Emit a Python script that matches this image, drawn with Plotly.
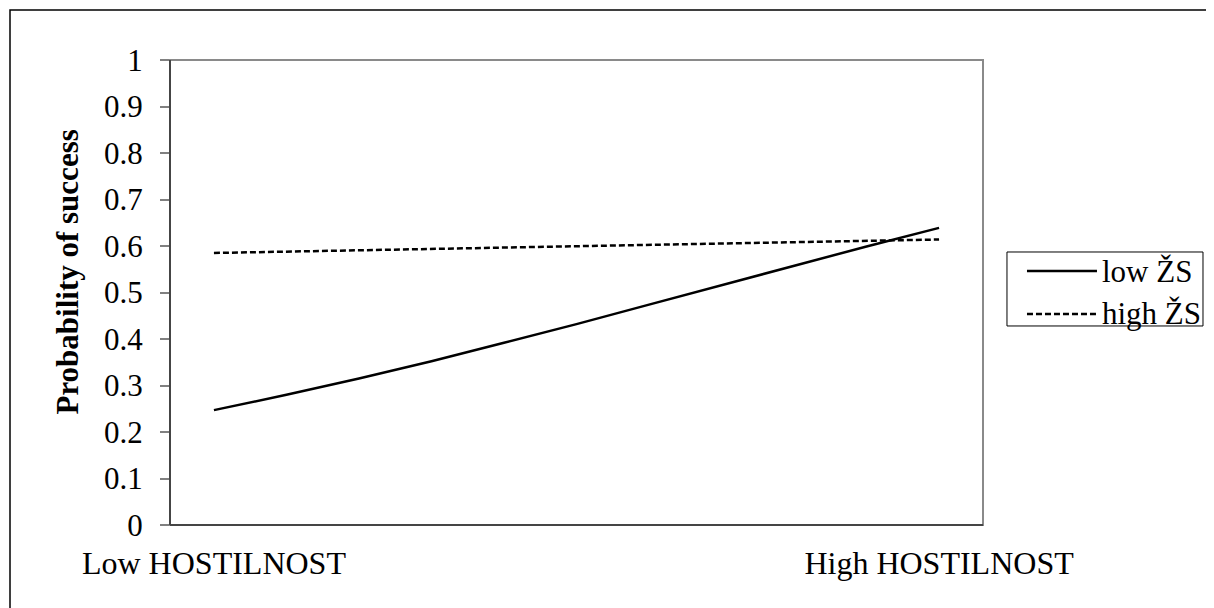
import plotly.graph_objects as go

# Data
x_pos = [0, 0.1, 0.2, 0.3, 0.4, 0.5, 0.6, 0.7, 0.8, 0.9, 1.0]
low_zs = [0.247, 0.280, 0.315, 0.352, 0.392, 0.432, 0.474, 0.516, 0.558, 0.599, 0.639]
high_zs = [0.585, 0.588, 0.591, 0.594, 0.597, 0.600, 0.602, 0.605, 0.608, 0.611, 0.614]
series_names = ["low ŽS", "high ŽS"]
x_tickvals = [0, 1]
x_ticktext = ["Low HOSTILNOST", "High HOSTILNOST"]
y_ticks = [0, 0.1, 0.2, 0.3, 0.4, 0.5, 0.6, 0.7, 0.8, 0.9, 1]
y_ticktext = ["0", "0.1", "0.2", "0.3", "0.4", "0.5", "0.6", "0.7", "0.8", "0.9", "1"]
y_title = "Probability of success"

FONT = "Liberation Serif, Times New Roman, serif"
DASH = "6px,3px"

fig = go.Figure()
fig.add_trace(go.Scatter(x=x_pos, y=low_zs, mode="lines", name=series_names[0],
                         line=dict(color="black", width=2.5), showlegend=False))
fig.add_trace(go.Scatter(x=x_pos, y=high_zs, mode="lines", name=series_names[1],
                         line=dict(color="black", width=2.5, dash=DASH), showlegend=False))

# legend geometry (paper coords)
lg_x0, lg_x1, lg_y0, lg_y1 = 1.0295, 1.2706, 0.428, 0.5871
row_y = [0.5462, 0.4538]
ln_x0, ln_x1, txt_x = 1.0541, 1.1402, 1.1439

shapes = [
    # outer chart frame
    dict(type="rect", xref="paper", yref="paper", x0=-0.1968, x1=1.3, y0=-0.25, y1=1.1075,
         line=dict(color="black", width=1.5), layer="below"),
    # plot area frame
    dict(type="rect", xref="paper", yref="paper", x0=0, x1=1, y0=0, y1=1,
         line=dict(color="#8a8a8a", width=2), layer="above"),
    dict(type="line", xref="paper", yref="paper", x0=0, x1=0, y0=0, y1=1,
         line=dict(color="#454545", width=2)),
    dict(type="line", xref="paper", yref="paper", x0=0, x1=1, y0=0, y1=0,
         line=dict(color="#454545", width=2)),
    # legend box
    dict(type="rect", xref="paper", yref="paper", x0=lg_x0, x1=lg_x1, y0=lg_y0, y1=lg_y1,
         line=dict(color="black", width=1), fillcolor="white"),
    dict(type="line", xref="paper", yref="paper", x0=ln_x0, x1=ln_x1, y0=row_y[0], y1=row_y[0],
         line=dict(color="black", width=2.5)),
    dict(type="line", xref="paper", yref="paper", x0=ln_x0, x1=ln_x1, y0=row_y[1], y1=row_y[1],
         line=dict(color="black", width=2.5, dash=DASH)),
]

annotations = [
    dict(xref="paper", yref="paper", x=txt_x, y=row_y[i], text=series_names[i],
         showarrow=False, xanchor="left", yanchor="middle",
         font=dict(family=FONT, size=31, color="black"))
    for i in range(2)
]
annotations.append(dict(xref="paper", yref="paper", x=-0.1255, y=0.545,
                        text="<b>" + y_title + "</b>", textangle=-90, showarrow=False,
                        xanchor="center", yanchor="middle",
                        font=dict(family=FONT, size=31, color="black")))

fig.update_layout(
    width=1206, height=600,
    margin=dict(l=162, r=231, t=52, b=83),
    paper_bgcolor="white", plot_bgcolor="white",
    font=dict(family=FONT, size=31, color="black"),
    showlegend=False,
    xaxis=dict(range=[-0.0606, 1.0606], tickmode="array", tickvals=x_tickvals,
               ticktext=x_ticktext, ticks="", showgrid=False, zeroline=False,
               showline=False, ticklabelstandoff=16,
               tickfont=dict(family=FONT, size=32, color="black")),
    yaxis=dict(range=[0, 1], tickmode="array", tickvals=y_ticks, ticktext=y_ticktext,
               ticks="outside", ticklen=9, tickwidth=1.5, tickcolor="#808080",
               showgrid=False, zeroline=False, showline=False,
               ticklabelstandoff=11,
               tickfont=dict(family=FONT, size=31, color="black")),
    shapes=shapes,
    annotations=annotations,
)

fig.write_html("out.html")
